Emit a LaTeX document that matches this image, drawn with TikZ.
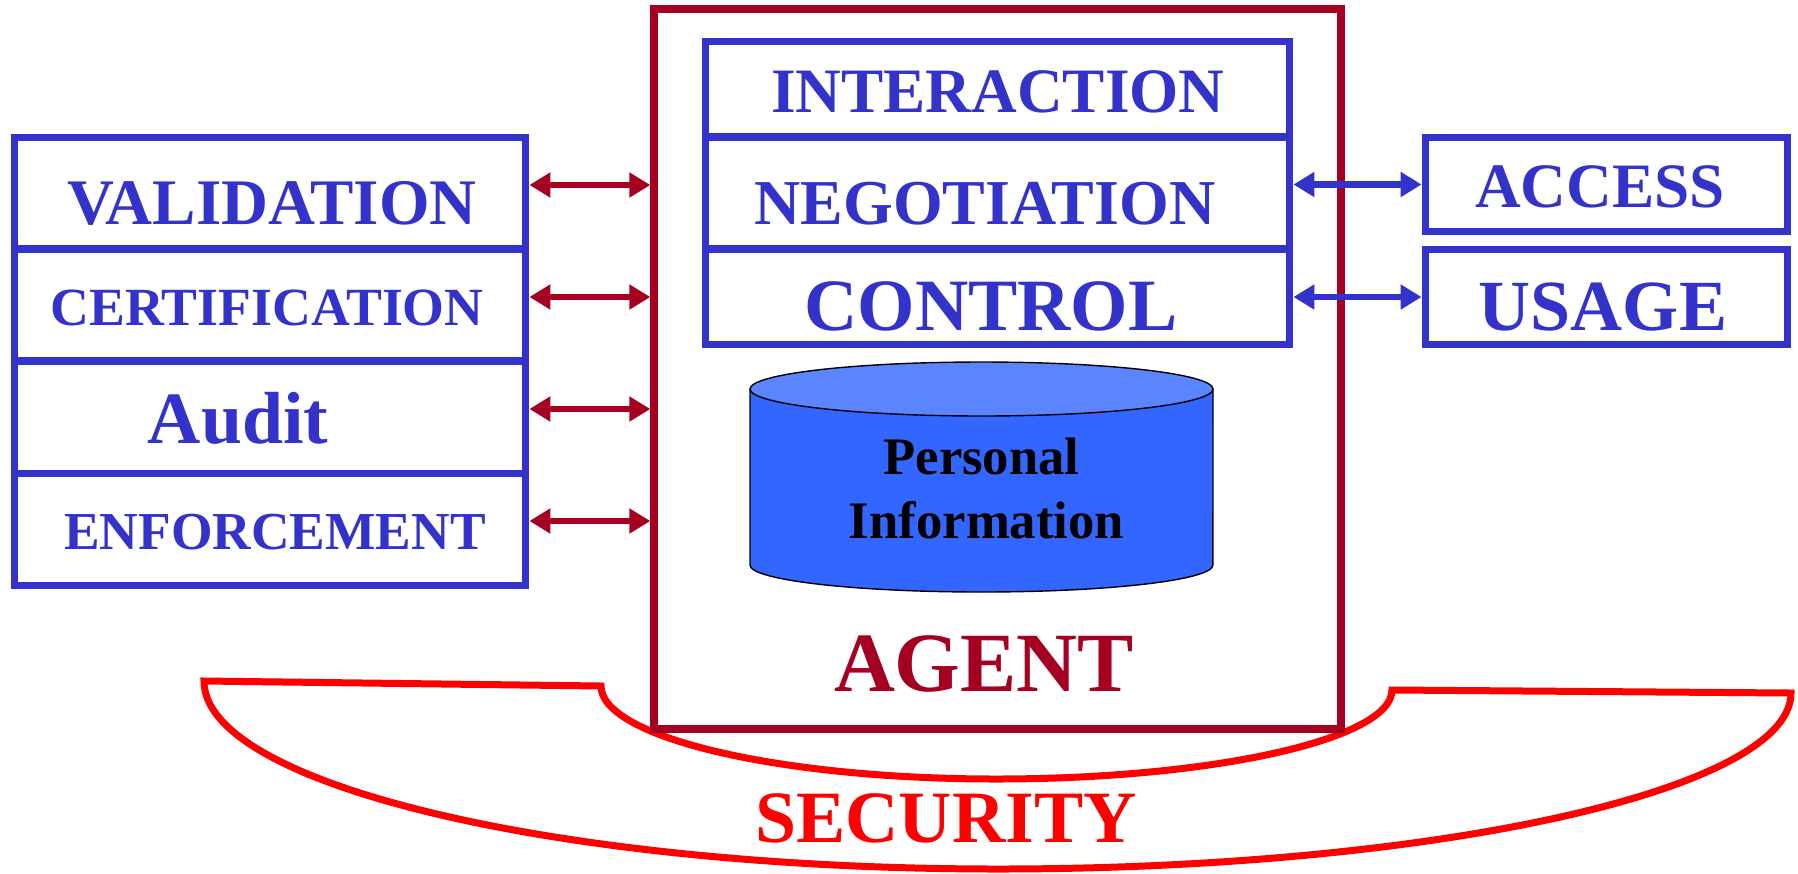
\documentclass[tikz,border=0pt]{standalone}
\usepackage{fontspec}
\setmainfont{Liberation Serif}
\usetikzlibrary{arrows.meta,calc}
\definecolor{bl}{HTML}{3333CC}
\definecolor{dred}{HTML}{A50021}
\definecolor{sred}{HTML}{FF0000}
\definecolor{cylbody}{HTML}{3366FF}
\definecolor{cyltop}{HTML}{5B85FF}
\newcommand{\myfs}[1]{\fontsize{#1}{#1}\selectfont\bfseries}
\tikzset{
  bluebox/.style={draw=bl, line width=0.14cm, inner sep=0pt},
  agentbox/.style={draw=dred, line width=0.15cm, inner sep=0pt},
  lbl/.style={inner sep=0pt, text=bl},
  redarr/.style={draw=dred, line width=0.13cm, {Triangle[length=0.42cm,width=0.48cm]}-{Triangle[length=0.42cm,width=0.48cm]}},
  bluearr/.style={draw=bl, line width=0.13cm, {Triangle[length=0.42cm,width=0.48cm]}-{Triangle[length=0.42cm,width=0.48cm]}},
  secline/.style={draw=sred, line width=0.14cm, line join=miter},
  cylline/.style={draw=black, line width=0.8pt}
}
\begin{document}
\begin{tikzpicture}[x=0.02cm,y=-0.02cm]
\useasboundingbox (0,0) rectangle (1798,873);
% security shape
\draw[secline] (204,681) -- (601,686)
  .. controls (601,737) and (778,779) .. (996,779)
  .. controls (1214,779) and (1392,739) .. (1392,690)
  -- (1791,693)
  .. controls (1791,790) and (1436,869) .. (998,869)
  .. controls (560,869) and (204,785) .. cycle;
\node[sred, inner sep=0pt] (sec) at (946,818) {\myfs{42}SECURITY};
% agent
\node[agentbox, minimum width=13.74cm, minimum height=14.4cm] (agent) at (997.5,369) {};
\node[inner sep=0pt, text=dred] (agentlbl) at (984,664) {\myfs{48}AGENT};
% left stack
\node[bluebox, minimum width=10.24cm, minimum height=2.24cm] (val) at (270,193) {};
\node[bluebox, minimum width=10.24cm, minimum height=2.24cm] (cert) at (270,305) {};
\node[bluebox, minimum width=10.24cm, minimum height=2.24cm] (aud) at (270,417) {};
\node[bluebox, minimum width=10.24cm, minimum height=2.24cm] (enf) at (270,529) {};
\node[lbl] (valt) at (272,203.5) {\myfs{37}VALIDATION};
\node[lbl] (certt) at (267,308) {\myfs{30.6}CERTIFICATION};
\node[lbl] (audt) at (238,418) {\myfs{42}Audit};
\node[lbl] (enft) at (275,532) {\myfs{30.4}ENFORCEMENT};
% inner stack
\node[bluebox, minimum width=11.7cm, minimum height=1.92cm] (int) at (997.5,89) {};
\node[bluebox, minimum width=11.7cm, minimum height=2.24cm] (neg) at (997.5,193) {};
\node[bluebox, minimum width=11.7cm, minimum height=1.91cm] (ctl) at (997.5,296.75) {};
\node[lbl] (intt) at (998,91.5) {\myfs{36}INTERACTION};
\node[lbl] (negt) at (985,203.5) {\myfs{36.4}NEGOTIATION};
\node[lbl] (ctlt) at (991,306) {\myfs{42}CONTROL};
% right boxes
\node[bluebox, minimum width=7.26cm, minimum height=1.9cm] (acc) at (1606.5,184.5) {};
\node[bluebox, minimum width=7.26cm, minimum height=1.89cm] (use) at (1606.5,297) {};
\node[lbl] (acct) at (1600,186.5) {\myfs{36}ACCESS};
\node[lbl] (uset) at (1603,307) {\myfs{41}USAGE};
% cylinder
\filldraw[fill=cylbody, cylline] (750,389) -- (750,565)
  arc[start angle=180, end angle=360, x radius=4.63cm, y radius=0.54cm]
  -- (1213,389) -- cycle;
\filldraw[fill=cyltop, cylline] (981.5,389) ellipse [x radius=4.63cm, y radius=0.54cm];
\node[inner sep=0pt] (pers) at (981.5,456.5) {\myfs{30}Personal};
\node[inner sep=0pt] (info) at (986.5,520) {\myfs{30}Information};
% arrows
\draw[redarr] ([yshift=0.16cm]val.east) -- ([yshift=0.16cm]val.east -| agent.west);
\draw[redarr] ([yshift=0.16cm]cert.east) -- ([yshift=0.16cm]cert.east -| agent.west);
\draw[redarr] ([yshift=0.16cm]aud.east) -- ([yshift=0.16cm]aud.east -| agent.west);
\draw[redarr] ([yshift=0.16cm]enf.east) -- ([yshift=0.16cm]enf.east -| agent.west);
\draw[bluearr] (acc.west -| neg.east) -- (acc.west);
\draw[bluearr] (use.west -| ctl.east) -- (use.west);
\end{tikzpicture}
\end{document}
